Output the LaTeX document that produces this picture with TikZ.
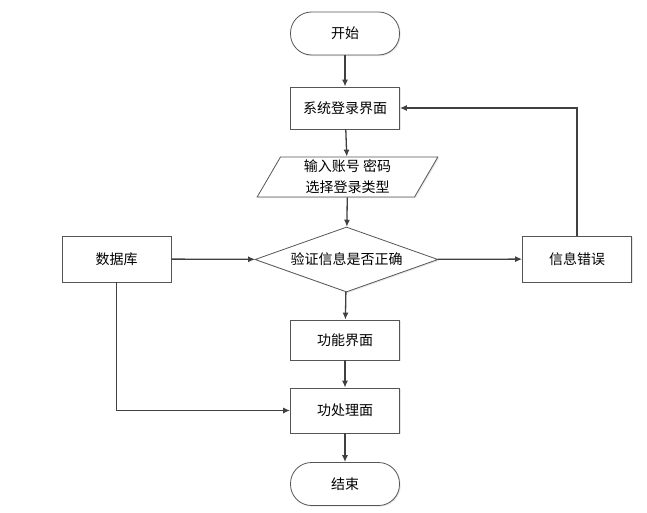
\documentclass[tikz,border=0pt]{standalone}
\usepackage{fontspec}
\newfontfamily\cjk{Noto Sans CJK SC}
\usetikzlibrary{arrows.meta,shapes.geometric,shadows}
\definecolor{linegray}{HTML}{404040}
\definecolor{boxgray}{HTML}{555555}
\tikzset{
  shade box/.style={drop shadow={shadow xshift=1.2pt,shadow yshift=-1.2pt,opacity=0.18,fill=gray}},
  procbox/.style={draw=boxgray,line width=0.8pt,fill=white,shade box,minimum width=109pt,minimum height=42pt,inner sep=0pt,font=\cjk\fontsize{14}{21}\selectfont},
  termbox/.style={procbox,rounded corners=21pt,minimum height=43pt},
  iobox/.style={procbox,trapezium,trapezium left angle=66,trapezium right angle=114,trapezium stretches=true,minimum width=181pt,minimum height=40pt,align=center},
  testbox/.style={procbox,diamond,aspect=2.86,minimum width=183pt,minimum height=65pt},
  flow/.style={draw=linegray,line width=1.3pt,-{Latex[length=7pt,width=6pt]}}
}
\begin{document}
\begin{tikzpicture}[x=1pt,y=-1pt]
  \useasboundingbox (0,0) rectangle (647,513);
  % main column
  \node[termbox] (start) at (345,33.5) {开始};
  \node[procbox] (login) at (345,108) {系统登录界面};
  \node[iobox] (input) at (347.5,177) {输入账号 密码\\选择登录类型};
  \node[testbox] (check) at (346.5,259.5) {验证信息是否正确};
  \node[procbox,minimum height=40pt] (func) at (345,340) {功能界面};
  \node[procbox,minimum height=45pt] (proc) at (345,410.5) {功处理面};
  \node[termbox] (end) at (345,484) {结束};
  % side boxes
  \node[procbox,minimum height=46pt] (db) at (116.5,259) {数据库};
  \node[procbox,minimum height=46pt] (err) at (577,259) {信息错误};
  % connectors
  \draw[flow] (start) -- (login);
  \draw[flow] (login) -- (input);
  \draw[flow] (input) -- (check);
  \draw[flow] (db) -- (check);
  \draw[flow] (check) -- (err);
  \draw[flow] (err.north) |- (login.east);
  \draw[flow] (check) -- (func);
  \draw[flow] (func) -- (proc);
  \draw[flow] (db.south) |- (proc.west);
  \draw[flow] (proc) -- (end);
\end{tikzpicture}
\end{document}
